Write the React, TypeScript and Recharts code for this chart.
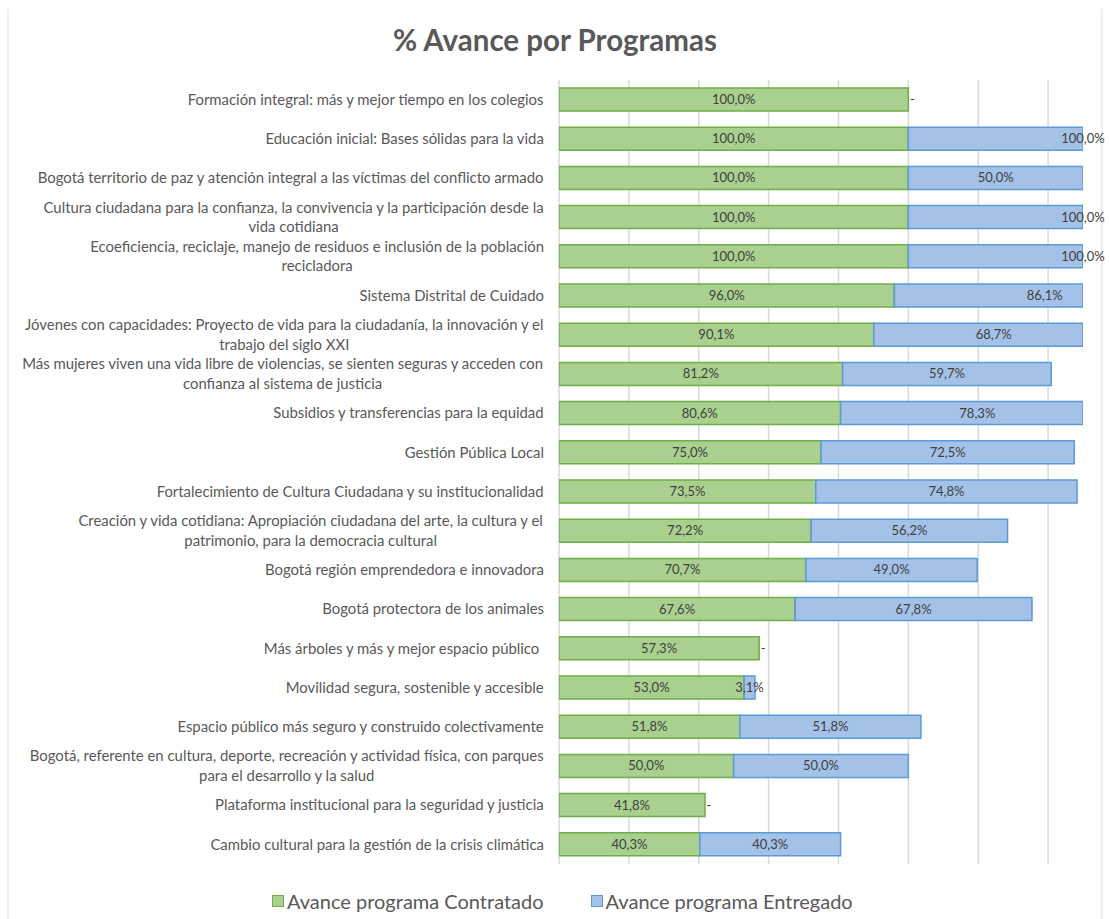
import React from "react";
import { BarChart, Bar, XAxis, YAxis, CartesianGrid, LabelList, Legend } from "recharts";

const categories: string[] = [
  "Formación integral: más y mejor tiempo en los colegios",
  "Educación inicial: Bases sólidas para la vida",
  "Bogotá territorio de paz y atención integral a las víctimas del conflicto armado",
  "Cultura ciudadana para la confianza, la convivencia y la participación desde la\nvida cotidiana",
  "Ecoeficiencia, reciclaje, manejo de residuos e inclusión de la población\nrecicladora",
  "Sistema Distrital de Cuidado",
  "Jóvenes con capacidades: Proyecto de vida para la ciudadanía, la innovación y el\ntrabajo del siglo XXI",
  "Más mujeres viven una vida libre de violencias, se sienten seguras y acceden con\nconfianza al sistema de justicia",
  "Subsidios y transferencias para la equidad",
  "Gestión Pública Local",
  "Fortalecimiento de Cultura Ciudadana y su institucionalidad",
  "Creación y vida cotidiana: Apropiación ciudadana del arte, la cultura y el\npatrimonio, para la democracia cultural",
  "Bogotá región emprendedora e innovadora",
  "Bogotá protectora de los animales",
  "Más árboles y más y mejor espacio público ",
  "Movilidad segura, sostenible y accesible",
  "Espacio público más seguro y construido colectivamente",
  "Bogotá, referente en cultura, deporte, recreación y actividad física, con parques\npara el desarrollo y la salud",
  "Plataforma institucional para la seguridad y justicia",
  "Cambio cultural para la gestión de la crisis climática",
];

const contratado: number[] = [
  100.0, 100.0, 100.0, 100.0, 100.0, 96.0, 90.1, 81.2, 80.6, 75.0,
  73.5, 72.2, 70.7, 67.6, 57.3, 53.0, 51.8, 50.0, 41.8, 40.3,
];

const entregado: number[] = [
  0, 100.0, 50.0, 100.0, 100.0, 86.1, 68.7, 59.7, 78.3, 72.5,
  74.8, 56.2, 49.0, 67.8, 0, 3.1, 51.8, 50.0, 0, 40.3,
];

const xTicks: number[] = [0, 20, 40, 60, 80, 100, 120, 140];
const xDomain: [number, number] = [0, 150];

const seriesNames = ["Avance programa Contratado", "Avance programa Entregado"];
const title = "% Avance por Programas";

const data = categories.map((name, i) => ({
  name,
  contratado: contratado[i],
  entregado: entregado[i],
}));

const FONT = "Lato, 'Open Sans', 'DejaVu Sans', sans-serif";
const TICK_FS = 14.9;
const LABEL_RIGHT = 544;

const CHART_W = 1109;
const CHART_H = 919;
const Y_AXIS_W = 559;
const MARGIN = { top: 80, right: 26, bottom: 55, left: 0 };
const PLOT_W = CHART_W - Y_AXIS_W - MARGIN.left - MARGIN.right;
const UNIT = PLOT_W / (xDomain[1] - xDomain[0]);

const GREEN_FILL = "#a9d08e";
const GREEN_STROKE = "#70ad47";
const BLUE_FILL = "#a4c2e8";
const BLUE_STROKE = "#5b9bd5";

let ctx: CanvasRenderingContext2D | null = null;
function measure(t: string): number {
  if (!ctx) ctx = document.createElement("canvas").getContext("2d");
  if (!ctx) return t.length * 7;
  ctx.font = `${TICK_FS}px Lato`;
  return ctx.measureText(t).width;
}

const CategoryTick = (props: any) => {
  const { y, payload } = props;
  const lines = String(payload.value).split("\n");
  const w = Math.max(...lines.map(measure));
  const cx = LABEL_RIGHT - w / 2;
  const lh = 19.5;
  const y0 = Number(y) - ((lines.length - 1) * lh) / 2 + TICK_FS * 0.35;
  return (
    <text
      textAnchor="middle"
      fill="#595959"
      fontSize={TICK_FS}
      fontFamily={FONT}
      style={{ whiteSpace: "pre" }}
    >
      {lines.map((l, i) => (
        <tspan key={i} x={cx} y={y0 + i * lh}>
          {l}
        </tspan>
      ))}
    </text>
  );
};

const fmt = (v: number) => v.toFixed(1).replace(".", ",") + "%";

const labelText = (x: number, y: number, text: string, key?: string) => (
  <text
    key={key}
    x={x}
    y={y}
    dy="0.35em"
    textAnchor="middle"
    fill="#404040"
    fontSize={13}
    fontFamily={FONT}
  >
    {text}
  </text>
);

const renderGreenLabel = (props: any) => {
  const { x, y, width, height, value, index } = props;
  const v = Number(value);
  const cy = Number(y) + Number(height) / 2;
  const cx = Number(x) + (v * UNIT) / 2;
  const zeroNext = entregado[index] === 0;
  return (
    <g>
      {labelText(cx, cy, fmt(v))}
      {zeroNext ? labelText(Number(x) + v * UNIT + 4, cy, "-") : null}
    </g>
  );
};

const renderBlueLabel = (props: any) => {
  const { x, y, height, value } = props;
  const v = Number(value);
  if (!v) return null;
  const cy = Number(y) + Number(height) / 2;
  const cx = Number(x) + (v * UNIT) / 2;
  return labelText(cx, cy, fmt(v));
};

const Swatch = ({ fill, stroke }: { fill: string; stroke: string }) => (
  <span
    style={{
      display: "inline-block",
      width: 10,
      height: 10,
      background: fill,
      border: `1px solid ${stroke}`,
      marginRight: 3,
    }}
  />
);

const LegendContent = () => (
  <div
    style={{
      display: "flex",
      alignItems: "center",
      fontFamily: FONT,
      fontSize: 20,
      color: "#595959",
      width: CHART_W,
      paddingLeft: 272,
      boxSizing: "border-box",
      lineHeight: "24px",
    }}
  >
    <div style={{ display: "flex", alignItems: "center" }}>
      <Swatch fill={GREEN_FILL} stroke={GREEN_STROKE} />
      <span>{seriesNames[0]}</span>
    </div>
    <div style={{ display: "flex", alignItems: "center", marginLeft: 47 }}>
      <Swatch fill={BLUE_FILL} stroke={BLUE_STROKE} />
      <span>{seriesNames[1]}</span>
    </div>
  </div>
);

const gridX = (p: any) => {
  const s = p?.xAxis?.scale;
  return xTicks.map((t) =>
    typeof s === "function"
      ? s(t)
      : p.offset.left + ((t - xDomain[0]) / (xDomain[1] - xDomain[0])) * p.offset.width
  );
};

export default function App() {
  return (
    <div
      style={{
        position: "absolute",
        left: 0,
        top: 0,
        width: CHART_W,
        height: CHART_H,
        background: "#ffffff",
        overflow: "hidden",
      }}
    >
      <div
        style={{
          position: "absolute",
          left: 7,
          top: 9,
          width: 2,
          height: 910,
          background: "#eeeeee",
        }}
      />
      <div
        style={{
          position: "absolute",
          left: 1101,
          top: 9,
          width: 2,
          height: 910,
          background: "#eeeeee",
        }}
      />
      <div
        style={{
          position: "absolute",
          left: 0,
          top: 22,
          width: 1110,
          textAlign: "center",
          fontFamily: FONT,
          fontWeight: 700,
          fontSize: 29.5,
          color: "#595959",
          lineHeight: "36px",
        }}
      >
        {title}
      </div>
      <div style={{ position: "absolute", left: 0, top: 0 }}>
        <BarChart
          width={CHART_W}
          height={CHART_H}
          data={data}
          layout="vertical"
          margin={MARGIN}
          barSize={23}
        >
          <CartesianGrid
            horizontal={false}
            vertical={true}
            stroke="#d9d9d9"
            strokeWidth={1.5}
            verticalCoordinatesGenerator={gridX}
          />
          <XAxis
            type="number"
            domain={xDomain}
            ticks={xTicks}
            allowDataOverflow={true}
            hide={true}
          />
          <YAxis
            type="category"
            dataKey="name"
            width={Y_AXIS_W}
            interval={0}
            tickLine={false}
            axisLine={false}
            tick={<CategoryTick />}
          />
          <Bar
            dataKey="contratado"
            name={seriesNames[0]}
            stackId="a"
            fill={GREEN_FILL}
            stroke={GREEN_STROKE}
            strokeWidth={1.5}
            isAnimationActive={false}
          >
            <LabelList dataKey="contratado" content={renderGreenLabel} />
          </Bar>
          <Bar
            dataKey="entregado"
            name={seriesNames[1]}
            stackId="a"
            fill={BLUE_FILL}
            stroke={BLUE_STROKE}
            strokeWidth={1.5}
            isAnimationActive={false}
          >
            <LabelList dataKey="entregado" content={renderBlueLabel} />
          </Bar>
          <Legend
            layout="horizontal"
            verticalAlign="middle"
            align="center"
            wrapperStyle={{ top: 889, left: 0, width: CHART_W }}
            content={<LegendContent />}
          />
        </BarChart>
      </div>
    </div>
  );
}
